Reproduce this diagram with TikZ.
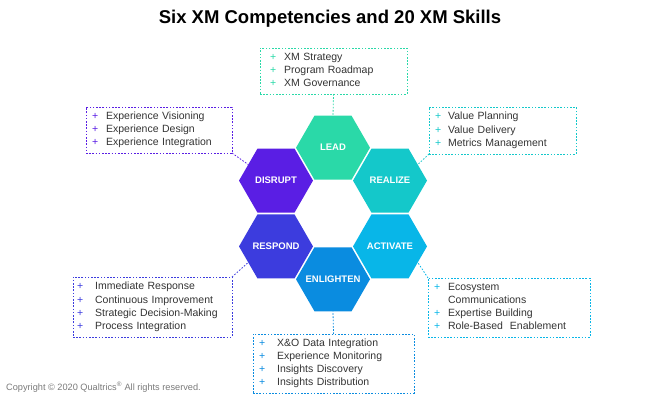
\documentclass[tikz,border=0pt]{standalone}
\usepackage{fontspec}
\setmainfont{Liberation Sans}
\usetikzlibrary{shapes.geometric}
\definecolor{cLead}{HTML}{2AD9A8}
\definecolor{cRealize}{HTML}{14C8CA}
\definecolor{cActivate}{HTML}{08B6E8}
\definecolor{cEnlighten}{HTML}{0A8CE0}
\definecolor{cRespond}{HTML}{3C3CDE}
\definecolor{cDisrupt}{HTML}{5A1EE4}
\definecolor{txt}{HTML}{333333}
\definecolor{copyc}{HTML}{7A7A7A}
\tikzset{
  hexa/.style={regular polygon, regular polygon sides=6, minimum size=74pt,
    inner sep=0pt, outer sep=0pt,
    label={[text=white, font=\fontsize{9.5}{10}\selectfont\bfseries, inner sep=0pt]center:#1}},
  skillbox/.style={draw, dash pattern=on 1.6pt off 1.6pt, line width=0.8pt,
    anchor=north west, inner ysep=0pt, outer sep=0pt, align=left, text=txt,
    font=\fontsize{10.5}{13.2}\selectfont},
  link/.style={dash pattern=on 1.6pt off 1.6pt, line width=0.8pt}
}
\begin{document}
\begin{tikzpicture}[x=1pt,y=-1pt]
\useasboundingbox (0,0) rectangle (660,405);
% title
\node[anchor=base, font=\fontsize{18.5}{20}\selectfont\bfseries] (title) at (330,23)
  {Six XM Competencies and 20 XM Skills};
% hexagons
\node[hexa=LEAD, fill=cLead]           (lead)      at (333,147.7) {};
\node[hexa=DISRUPT, fill=cDisrupt]     (disrupt)   at (276,180.6) {};
\node[hexa=REALIZE, fill=cRealize]     (realize)   at (390,180.6) {};
\node[hexa=RESPOND, fill=cRespond]     (respond)   at (276,246.4) {};
\node[hexa=ACTIVATE, fill=cActivate]   (activate)  at (390,246.4) {};
\node[hexa=ENLIGHTEN, fill=cEnlighten] (enlighten) at (333,279.3) {};
% skill boxes
\node[skillbox, draw=cLead, minimum width=147pt, minimum height=46pt, inner xsep=10pt, text width=127pt]
  (leadbox) at (260,48) {\noindent\begin{tabular}{@{}l@{\hspace{8pt}}l@{}}
  \textcolor{cLead}{+} & XM Strategy\\
  \textcolor{cLead}{+} & Program Roadmap\\
  \textcolor{cLead}{+} & XM Governance
  \end{tabular}};
\node[skillbox, draw=cDisrupt, minimum width=146pt, minimum height=46pt, inner xsep=6pt, text width=134pt]
  (disbox) at (86,107) {\noindent\begin{tabular}{@{}l@{\hspace{8pt}}l@{}}
  \textcolor{cDisrupt}{+} & Experience Visioning\\
  \textcolor{cDisrupt}{+} & Experience Design\\
  \textcolor{cDisrupt}{+} & Experience Integration
  \end{tabular}};
\node[skillbox, draw=cRealize, minimum width=147pt, minimum height=47pt, inner xsep=6pt, text width=135pt]
  (realbox) at (429,107) {\noindent\begin{tabular}{@{}l@{\hspace{7pt}}l@{}}
  \textcolor{cRealize}{+} & Value Planning\\
  \textcolor{cRealize}{+} & Value Delivery\\
  \textcolor{cRealize}{+} & Metrics Management
  \end{tabular}};
\node[skillbox, draw=cRespond, minimum width=159pt, minimum height=60pt, inner xsep=4pt, text width=151pt]
  (respbox) at (73,277) {\noindent\begin{tabular}{@{}l@{\hspace{12pt}}l@{}}
  \textcolor{cRespond}{+} & Immediate Response\\
  \textcolor{cRespond}{+} & Continuous Improvement\\
  \textcolor{cRespond}{+} & Strategic Decision-Making\\
  \textcolor{cRespond}{+} & Process Integration
  \end{tabular}};
\node[skillbox, draw=cActivate, minimum width=162pt, minimum height=59pt, inner xsep=6pt, text width=150pt]
  (actbox) at (428,278) {\noindent\begin{tabular}{@{}l@{\hspace{8pt}}l@{}}
  \textcolor{cActivate}{+} & Ecosystem\\
   & Communications\\
  \textcolor{cActivate}{+} & Expertise Building\\
  \textcolor{cActivate}{+} & Role-Based\ \ Enablement
  \end{tabular}};
\node[skillbox, draw=cEnlighten, minimum width=161pt, minimum height=59pt, inner xsep=6pt, text width=149pt]
  (enlbox) at (253,334) {\noindent\begin{tabular}{@{}l@{\hspace{12pt}}l@{}}
  \textcolor{cEnlighten}{+} & X\&O Data Integration\\
  \textcolor{cEnlighten}{+} & Experience Monitoring\\
  \textcolor{cEnlighten}{+} & Insights Discovery\\
  \textcolor{cEnlighten}{+} & Insights Distribution
  \end{tabular}};
% connectors
\draw[link, cLead]      (leadbox.south)      -- (lead.north);
\draw[link, cDisrupt]   (disbox.south east)  -- (disrupt.150);
\draw[link, cRealize]   (realbox.south west) -- (realize.30);
\draw[link, cRespond]   (respbox.north east) -- (respond.210);
\draw[link, cActivate]  (actbox.north west)  -- (activate.330);
\draw[link, cEnlighten] (enlbox.north)       -- (enlighten.south);
% copyright
\node[anchor=base west, text=copyc, font=\fontsize{9.2}{10}\selectfont, inner sep=0pt] (copy) at (6,390)
  {Copyright © 2020 Qualtrics\textsuperscript{®} All rights reserved.};
\end{tikzpicture}
\end{document}
